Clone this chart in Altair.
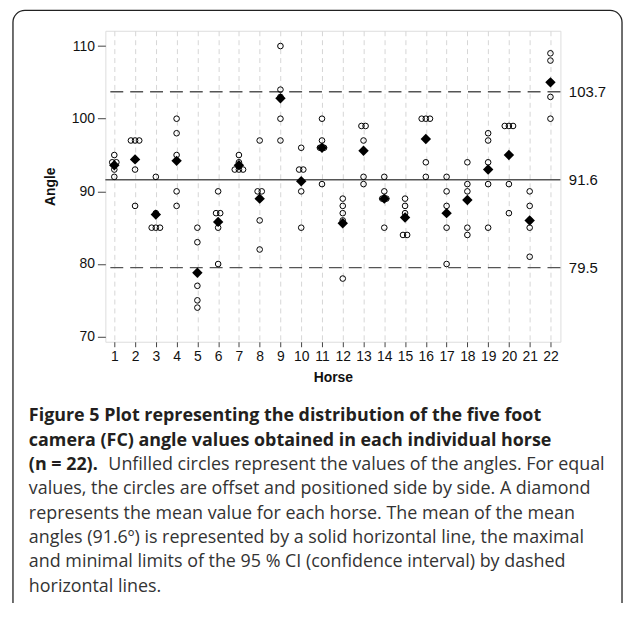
import altair as alt
import pandas as pd

# ---------------- data ----------------
horses = list(range(1, 23))
angles = [
    [95, 94, 94, 93, 92],
    [97, 97, 97, 93, 88],
    [92, 87, 85, 85, 85],
    [100, 98, 95, 90, 88],
    [85, 83, 77, 75, 74],
    [90, 87, 87, 85, 80],
    [95, 94, 93, 93, 93],
    [97, 90, 90, 86, 82],
    [110, 104, 103, 100, 97],
    [96, 93, 93, 90, 85],
    [100, 97, 96, 96, 91],
    [89, 88, 87, 86, 78],
    [99, 99, 97, 92, 91],
    [92, 90, 89, 89, 85],
    [89, 88, 87, 84, 84],
    [100, 100, 100, 94, 92],
    [92, 90, 88, 85, 80],
    [94, 91, 90, 85, 84],
    [98, 97, 94, 91, 85],
    [99, 99, 99, 91, 87],
    [90, 88, 86, 85, 81],
    [109, 108, 105, 103, 100],
]
ref_values = [103.7, 91.6, 79.5]
ref_styles = ["dashed", "solid", "dashed"]
y_ticks = [70, 80, 90, 100, 110]

caption_bold = [
    "Figure 5 Plot representing the distribution of the five foot",
    "camera (FC) angle values obtained in each individual horse",
    "(n = 22).",
]
caption_line3 = ["Unfilled circles represent the values of the angles. For equal"]
caption_rest = [
    "values, the circles are offset and positioned side by side. A diamond",
    "represents the mean value for each horse. The mean of the mean",
    "angles (91.6\u00ba) is represented by a solid horizontal line, the maximal",
    "and minimal limits of the 95 % CI (confidence interval) by dashed",
    "horizontal lines.",
]

# ---------------- tables ----------------
rows = []
for h, vals in zip(horses, angles):
    counts = {}
    for v in vals:
        counts[v] = counts.get(v, 0) + 1
    seen = {}
    for v in vals:
        k = seen.get(v, 0)
        seen[v] = k + 1
        n = counts[v]
        rows.append({"horse": h, "angle": v, "xpos": h + (k - (n - 1) / 2) * 0.2})
df = pd.DataFrame(rows)
ref_df = pd.DataFrame({"value": ref_values, "style": ref_styles})
one = pd.DataFrame({"k": [0]})

W, H = 458, 313
FONT = "Liberation Sans"
CAPFONT = "Open Sans"

xscale = alt.Scale(domain=[0.57, 22.48], nice=False, zero=False)
yscale = alt.Scale(domain=[69.3, 112.1], nice=False, zero=False)

x_axis = alt.Axis(values=horses, format="d", title="Horse",
                  grid=True, gridDash=[5, 4], gridColor="#d6d6d6",
                  gridWidth=1, tickSize=5, tickColor="#444444",
                  domain=False, labelFontSize=14, labelFont=FONT,
                  labelColor="#111111", labelPadding=3, labelOverlap=False,
                  labelFlush=False, labelBound=False,
                  titleFontSize=14, titleFont=FONT, titleFontWeight="bold",
                  titleColor="#111111", titlePadding=7)

rules = alt.Chart(ref_df).mark_rule(color="#555555", strokeWidth=1.4).encode(
    y=alt.Y("value:Q", scale=yscale,
            axis=alt.Axis(orient="right", values=ref_values, format=".1f",
                          title=None, grid=False, domain=False, ticks=False,
                          labelPadding=8, labelFontSize=15, labelFont=FONT,
                          labelColor="#111111")),
    strokeDash=alt.StrokeDash("style:N", legend=None,
                              scale=alt.Scale(domain=["solid", "dashed"],
                                              range=[[1, 0], [13, 7]])),
)

circles = alt.Chart(df).mark_point(shape="circle", filled=False, color="black",
                                   size=32, strokeWidth=1, opacity=1).encode(
    x=alt.X("xpos:Q", scale=xscale, axis=x_axis),
    y=alt.Y("angle:Q", scale=yscale,
            axis=alt.Axis(values=y_ticks, title="Angle", grid=False,
                          tickSize=8, tickColor="#444444", domain=False,
                          labelFontSize=14, labelFont=FONT, labelColor="#111111",
                          labelPadding=3, titleFontSize=14, titleFont=FONT,
                          titleFontWeight="bold", titleColor="#111111",
                          titlePadding=14)),
)

diamonds = alt.Chart(df).mark_point(shape="diamond", filled=True, color="black",
                                    size=110, opacity=1).encode(
    x=alt.X("horse:Q", scale=xscale, axis=x_axis),
    y=alt.Y("mean(angle):Q", scale=yscale, axis=None),
)

frame = alt.Chart(one).mark_rect(fill=None, stroke="#222222", strokeWidth=1.3,
                                 cornerRadius=12).encode(
    x=alt.value(-93), x2=alt.value(W + 62), y=alt.value(-20.5), y2=alt.value(700)
)

cap_bold = alt.Chart(one).mark_text(text=caption_bold, align="left",
                                    baseline="alphabetic", font=CAPFONT,
                                    fontSize=18, fontWeight="bold",
                                    color="#231f20", lineHeight=24.5).encode(
    x=alt.value(-77), y=alt.value(393)
)
cap_l3 = alt.Chart(one).mark_text(text=caption_line3, align="left",
                                  baseline="alphabetic", font=CAPFONT,
                                  fontSize=18, color="#333333").encode(
    x=alt.value(3), y=alt.value(393 + 2 * 24.5)
)
cap_rest = alt.Chart(one).mark_text(text=caption_rest, align="left",
                                    baseline="alphabetic", font=CAPFONT,
                                    fontSize=18, color="#333333",
                                    lineHeight=24.5).encode(
    x=alt.value(-77), y=alt.value(393 + 3 * 24.5)
)

chart = alt.layer(rules, circles, diamonds, frame, cap_bold, cap_l3, cap_rest).resolve_axis(
    y="independent"
).properties(
    width=W, height=H,
    autosize=alt.AutoSizeParams(type="none"),
    padding={"left": 98, "top": 21, "right": 64, "bottom": 261},
).configure_view(stroke="#666666", strokeWidth=1.5).configure(background="white")

chart.save("out.html", embed_options={"renderer": "svg", "actions": False})
